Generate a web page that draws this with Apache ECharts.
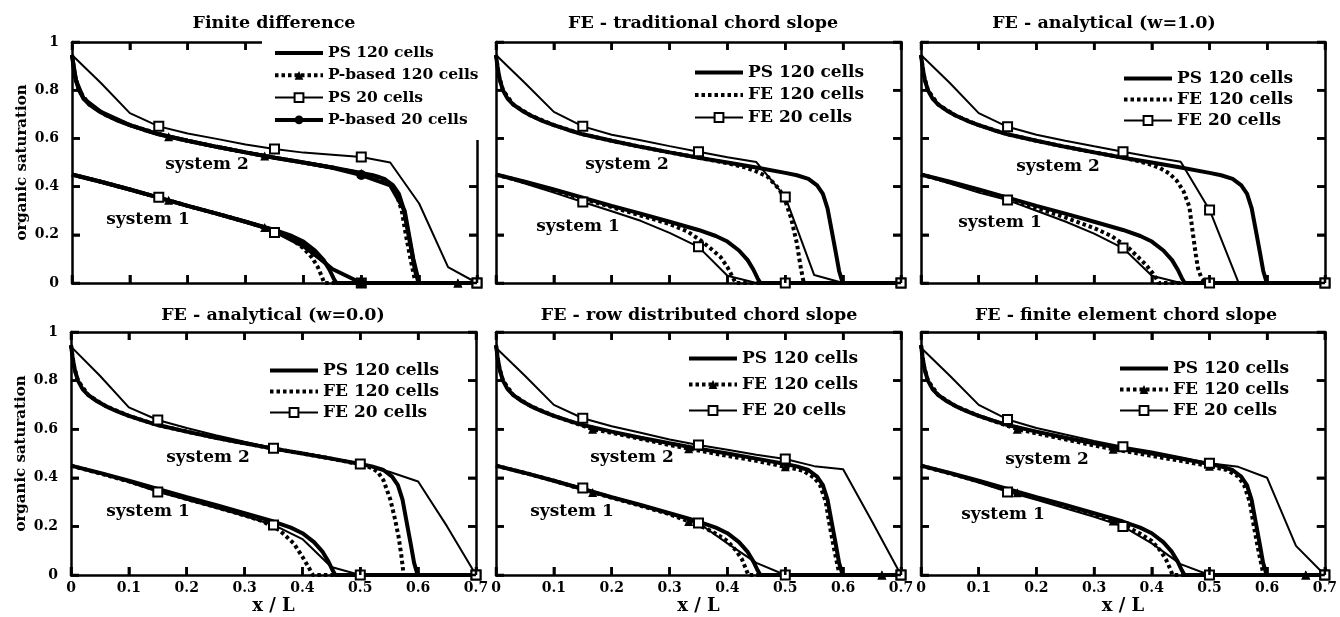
<!DOCTYPE html>
<html>
<head>
<meta charset="utf-8">
<title>organic saturation profiles</title>
<script src="https://cdn.jsdelivr.net/npm/echarts@6/dist/echarts.min.js"></script>
<style>
  html, body { margin: 0; padding: 0; background: #fff; }
  #main { width: 1340px; height: 617px; }
</style>
</head>
<body>
<div id="main"></div>
<script>
// axis ticks shared by every panel
const xTicks = [0, 0.1, 0.2, 0.3, 0.4, 0.5, 0.6, 0.7];
const yTicks = [0, 0.2, 0.4, 0.6, 0.8, 1];

const panelTitles = [
  'Finite difference',
  'FE - traditional chord slope',
  'FE - analytical (w=1.0)',
  'FE - analytical (w=0.0)',
  'FE - row distributed chord slope',
  'FE - finite element chord slope'
];

// where the markers sit on the curves (x / L)
const cells20Marks = [0.15, 0.35, 0.5, 0.7];
const cells120Marks = [0.167, 0.333, 0.5, 0.667];
const pBased20Marks = [0.5];

// reference solution, same in every panel
const ps120Sys2 = [[0,0.946],[0.003,0.89],[0.007,0.84],[0.012,0.8],[0.02,0.765],[0.03,0.74],[0.045,0.715],[0.06,0.695],[0.08,0.673],[0.1,0.655],[0.125,0.635],[0.15,0.617],[0.2,0.59],[0.25,0.565],[0.3,0.542],[0.35,0.52],[0.4,0.5],[0.45,0.479],[0.5,0.457],[0.52,0.447],[0.54,0.432],[0.555,0.405],[0.565,0.37],[0.573,0.31],[0.58,0.22],[0.587,0.13],[0.593,0.05],[0.598,0.01],[0.6,0],[0.7,0]];
const ps120Sys1 = [[0,0.45],[0.05,0.42],[0.1,0.388],[0.15,0.354],[0.2,0.32],[0.25,0.288],[0.3,0.254],[0.35,0.22],[0.38,0.195],[0.4,0.172],[0.42,0.135],[0.435,0.095],[0.445,0.055],[0.452,0.02],[0.457,0],[0.7,0]];

// finite difference
const pbFd120Sys2 = [[0,0.946],[0.005,0.86],[0.012,0.8],[0.03,0.74],[0.06,0.695],[0.1,0.655],[0.167,0.607],[0.2,0.59],[0.25,0.565],[0.3,0.542],[0.333,0.527],[0.4,0.5],[0.45,0.479],[0.5,0.455],[0.53,0.44],[0.55,0.41],[0.56,0.375],[0.57,0.3],[0.577,0.2],[0.585,0.1],[0.592,0.02],[0.595,0],[0.667,0],[0.7,0]];
const pbFd120Sys1 = [[0,0.45],[0.05,0.42],[0.1,0.388],[0.167,0.343],[0.2,0.32],[0.25,0.288],[0.3,0.254],[0.333,0.23],[0.36,0.205],[0.38,0.18],[0.4,0.145],[0.415,0.105],[0.425,0.065],[0.432,0.025],[0.436,0],[0.5,0],[0.667,0],[0.7,0]];
const psFd20Sys2 = [[0,0.946],[0.05,0.83],[0.1,0.705],[0.15,0.65],[0.2,0.62],[0.25,0.598],[0.3,0.575],[0.35,0.556],[0.4,0.541],[0.45,0.532],[0.5,0.523],[0.55,0.5],[0.6,0.33],[0.65,0.066],[0.7,0]];
const psFd20Sys1 = [[0,0.45],[0.05,0.42],[0.1,0.39],[0.15,0.356],[0.2,0.322],[0.25,0.29],[0.3,0.255],[0.35,0.21],[0.4,0.148],[0.45,0.058],[0.5,0],[0.7,0]];
const pbFd20Sys2 = [[0,0.946],[0.007,0.84],[0.02,0.765],[0.05,0.71],[0.1,0.655],[0.15,0.617],[0.2,0.59],[0.25,0.565],[0.3,0.542],[0.35,0.52],[0.4,0.5],[0.45,0.478],[0.5,0.448],[0.55,0.405],[0.575,0.3],[0.59,0.1],[0.6,0],[0.7,0]];
const pbFd20Sys1 = [[0,0.45],[0.05,0.42],[0.1,0.388],[0.15,0.354],[0.2,0.32],[0.25,0.288],[0.3,0.254],[0.35,0.218],[0.4,0.158],[0.45,0.058],[0.5,0],[0.7,0]];

// FE - traditional chord slope
const feTc120Sys2 = [[0,0.946],[0.005,0.86],[0.012,0.8],[0.03,0.74],[0.06,0.695],[0.1,0.655],[0.15,0.617],[0.2,0.59],[0.25,0.565],[0.3,0.542],[0.35,0.52],[0.4,0.497],[0.43,0.48],[0.45,0.463],[0.47,0.44],[0.49,0.388],[0.5,0.34],[0.51,0.27],[0.52,0.165],[0.527,0.06],[0.532,0],[0.7,0]];
const feTc120Sys1 = [[0,0.45],[0.05,0.418],[0.1,0.385],[0.15,0.35],[0.2,0.315],[0.25,0.28],[0.3,0.245],[0.33,0.215],[0.353,0.178],[0.37,0.145],[0.388,0.108],[0.4,0.066],[0.41,0.02],[0.414,0],[0.7,0]];
const feTc20Sys2 = [[0,0.946],[0.05,0.83],[0.1,0.71],[0.15,0.65],[0.2,0.615],[0.25,0.592],[0.3,0.568],[0.35,0.545],[0.4,0.522],[0.45,0.502],[0.5,0.357],[0.55,0.033],[0.6,0],[0.65,0],[0.7,0]];
const feTc20Sys1 = [[0,0.45],[0.05,0.413],[0.1,0.375],[0.15,0.336],[0.2,0.298],[0.25,0.258],[0.3,0.208],[0.35,0.15],[0.4,0.03],[0.45,0],[0.5,0],[0.7,0]];

// FE - analytical (w=1.0)
const feA1120Sys2 = [[0,0.946],[0.005,0.86],[0.012,0.8],[0.03,0.74],[0.06,0.695],[0.1,0.655],[0.15,0.617],[0.2,0.59],[0.25,0.565],[0.3,0.542],[0.35,0.52],[0.37,0.51],[0.4,0.49],[0.414,0.477],[0.43,0.455],[0.443,0.425],[0.455,0.38],[0.465,0.316],[0.471,0.207],[0.476,0.12],[0.48,0.06],[0.486,0.02],[0.494,0],[0.7,0]];
const feA1120Sys1 = [[0,0.45],[0.05,0.418],[0.1,0.385],[0.15,0.35],[0.2,0.312],[0.25,0.272],[0.3,0.228],[0.33,0.195],[0.36,0.145],[0.39,0.075],[0.405,0.03],[0.412,0],[0.7,0]];
const feA120Sys2 = [[0,0.946],[0.05,0.83],[0.1,0.705],[0.15,0.648],[0.2,0.615],[0.25,0.59],[0.3,0.567],[0.35,0.545],[0.4,0.523],[0.45,0.503],[0.5,0.303],[0.55,0.003],[0.6,0],[0.65,0],[0.7,0]];
const feA120Sys1 = [[0,0.45],[0.05,0.413],[0.1,0.375],[0.15,0.344],[0.2,0.3],[0.25,0.255],[0.3,0.205],[0.35,0.145],[0.4,0.03],[0.45,0],[0.5,0],[0.7,0]];

// FE - analytical (w=0.0)
const feA0120Sys2 = [[0,0.946],[0.005,0.86],[0.012,0.8],[0.03,0.74],[0.06,0.695],[0.1,0.655],[0.15,0.617],[0.2,0.59],[0.25,0.565],[0.3,0.542],[0.35,0.52],[0.4,0.5],[0.45,0.479],[0.5,0.455],[0.52,0.44],[0.53,0.425],[0.54,0.39],[0.552,0.31],[0.56,0.23],[0.566,0.16],[0.571,0.08],[0.575,0],[0.7,0]];
const feA0120Sys1 = [[0,0.45],[0.05,0.418],[0.1,0.385],[0.15,0.348],[0.2,0.313],[0.25,0.28],[0.3,0.245],[0.33,0.222],[0.36,0.185],[0.385,0.13],[0.4,0.075],[0.41,0.035],[0.418,0],[0.7,0]];
const feA020Sys2 = [[0,0.94],[0.05,0.82],[0.1,0.69],[0.15,0.638],[0.2,0.605],[0.25,0.575],[0.3,0.548],[0.35,0.522],[0.4,0.502],[0.45,0.482],[0.5,0.457],[0.55,0.425],[0.6,0.385],[0.65,0.2],[0.7,0]];
const feA020Sys1 = [[0,0.45],[0.05,0.418],[0.1,0.383],[0.15,0.342],[0.2,0.31],[0.25,0.277],[0.3,0.243],[0.35,0.206],[0.4,0.148],[0.45,0.033],[0.5,0],[0.7,0]];

// FE - row distributed chord slope
const feRd120Sys2 = [[0,0.946],[0.005,0.86],[0.012,0.8],[0.03,0.74],[0.06,0.695],[0.1,0.655],[0.167,0.6],[0.2,0.585],[0.25,0.56],[0.3,0.535],[0.333,0.52],[0.4,0.49],[0.45,0.47],[0.5,0.445],[0.53,0.43],[0.55,0.4],[0.56,0.37],[0.57,0.3],[0.577,0.2],[0.585,0.1],[0.592,0.02],[0.595,0],[0.667,0],[0.7,0]];
const feRd120Sys1 = [[0,0.45],[0.05,0.42],[0.1,0.388],[0.167,0.34],[0.2,0.318],[0.25,0.285],[0.3,0.25],[0.333,0.22],[0.36,0.195],[0.38,0.17],[0.4,0.14],[0.415,0.1],[0.425,0.065],[0.432,0.025],[0.436,0],[0.5,0],[0.667,0],[0.7,0]];
const feRd20Sys2 = [[0,0.935],[0.05,0.82],[0.1,0.7],[0.15,0.645],[0.2,0.612],[0.25,0.585],[0.3,0.558],[0.35,0.535],[0.4,0.515],[0.45,0.495],[0.5,0.477],[0.55,0.448],[0.6,0.435],[0.65,0.22],[0.7,0]];
const feRd20Sys1 = [[0,0.45],[0.05,0.42],[0.1,0.39],[0.15,0.358],[0.2,0.322],[0.25,0.29],[0.3,0.255],[0.35,0.214],[0.4,0.13],[0.45,0.05],[0.5,0],[0.7,0]];

// FE - finite element chord slope
const feFe120Sys2 = [[0,0.946],[0.005,0.86],[0.012,0.8],[0.03,0.74],[0.06,0.695],[0.1,0.655],[0.167,0.6],[0.2,0.583],[0.25,0.558],[0.3,0.533],[0.333,0.518],[0.4,0.49],[0.45,0.47],[0.5,0.448],[0.53,0.432],[0.55,0.405],[0.56,0.37],[0.57,0.3],[0.577,0.2],[0.585,0.1],[0.592,0.02],[0.595,0],[0.667,0],[0.7,0]];
const feFe120Sys1 = [[0,0.45],[0.05,0.418],[0.1,0.385],[0.167,0.338],[0.2,0.316],[0.25,0.283],[0.3,0.25],[0.333,0.222],[0.36,0.195],[0.38,0.17],[0.4,0.14],[0.415,0.1],[0.425,0.062],[0.432,0.025],[0.436,0],[0.5,0],[0.667,0],[0.7,0]];
const feFe20Sys2 = [[0,0.935],[0.05,0.82],[0.1,0.7],[0.15,0.64],[0.2,0.605],[0.25,0.578],[0.3,0.552],[0.35,0.528],[0.4,0.508],[0.45,0.485],[0.5,0.46],[0.55,0.445],[0.6,0.4],[0.65,0.12],[0.7,0]];
const feFe20Sys1 = [[0,0.45],[0.05,0.415],[0.1,0.38],[0.15,0.342],[0.2,0.31],[0.25,0.275],[0.3,0.24],[0.35,0.2],[0.4,0.13],[0.45,0.045],[0.5,0],[0.7,0]];

// [legend text, line kind, system 1, system 2, marker x positions]
const panelCurves = [
  [['PS 120 cells', 'thick', ps120Sys1, ps120Sys2, null],
   ['P-based 120 cells', 'dottedTri', pbFd120Sys1, pbFd120Sys2, cells120Marks],
   ['PS 20 cells', 'thinSq', psFd20Sys1, psFd20Sys2, cells20Marks],
   ['P-based 20 cells', 'thickDot', pbFd20Sys1, pbFd20Sys2, pBased20Marks]],
  [['PS 120 cells', 'thick', ps120Sys1, ps120Sys2, null],
   ['FE 120 cells', 'dotted', feTc120Sys1, feTc120Sys2, null],
   ['FE 20 cells', 'thinSq', feTc20Sys1, feTc20Sys2, cells20Marks]],
  [['PS 120 cells', 'thick', ps120Sys1, ps120Sys2, null],
   ['FE 120 cells', 'dotted', feA1120Sys1, feA1120Sys2, null],
   ['FE 20 cells', 'thinSq', feA120Sys1, feA120Sys2, cells20Marks]],
  [['PS 120 cells', 'thick', ps120Sys1, ps120Sys2, null],
   ['FE 120 cells', 'dotted', feA0120Sys1, feA0120Sys2, null],
   ['FE 20 cells', 'thinSq', feA020Sys1, feA020Sys2, cells20Marks]],
  [['PS 120 cells', 'thick', ps120Sys1, ps120Sys2, null],
   ['FE 120 cells', 'dottedTri', feRd120Sys1, feRd120Sys2, cells120Marks],
   ['FE 20 cells', 'thinSq', feRd20Sys1, feRd20Sys2, cells20Marks]],
  [['PS 120 cells', 'thick', ps120Sys1, ps120Sys2, null],
   ['FE 120 cells', 'dottedTri', feFe120Sys1, feFe120Sys2, cells120Marks],
   ['FE 20 cells', 'thinSq', feFe20Sys1, feFe20Sys2, cells20Marks]]
];

// ---- layout (pixels) ----
const gridBoxes = [[72, 42, 405, 241], [496, 42, 405, 241], [921, 42, 404, 241],
                   [71, 332, 405, 243], [496, 332, 405, 243], [921, 332, 404, 243]];
const titlePos = [[274, 23], [703, 23], [1104, 23], [273, 315], [699, 315], [1126, 315]];
const sysLabelPos = [[[207, 165], [148, 220]], [[627, 165], [578, 227]], [[1058, 167], [1000, 223]],
                     [[208, 458], [148, 512]], [[632, 458], [572, 512]], [[1047, 460], [1003, 515]]];
const legendBoxes = [
  { left: 262, top: 31, gap: 6.3, size: 15.5, bg: '#fff', padding: [14, 4, 12, 11], bottom: 140 },
  { left: 693, top: 64, gap: 5.5, size: 17 },
  { left: 1122, top: 70, gap: 4, size: 17 },
  { left: 268, top: 362, gap: 4, size: 17 },
  { left: 687, top: 350, gap: 9, size: 17 },
  { left: 1118, top: 360, gap: 4, size: 17 }
];
const TICK_LEN = 8;

const FONT = 'DejaVu Serif';
const KIND = {
  thick:     { width: 4, type: 'solid', symbol: 'none', size: 0 },
  dotted:    { width: 4, type: [3.5, 3], symbol: 'none', size: 0 },
  dottedTri: { width: 4, type: [3.5, 3], symbol: 'triangle', size: 9 },
  thinSq:    { width: 2, type: 'solid', symbol: 'emptyRect', size: 9 },
  thickDot:  { width: 4, type: 'solid', symbol: 'circle', size: 10 }
};

function withMarks(points, marks) {
  return points.map(p => (marks && marks.indexOf(p[0]) >= 0) ? p : { value: p, symbol: 'none' });
}

// frame on all four sides, ticks pointing inward
function frameAxis(extra) {
  return Object.assign({
    type: 'value',
    axisLine: { show: true, onZero: false, lineStyle: { color: '#000', width: 2.5 } },
    axisTick: { show: true, inside: true, length: TICK_LEN, lineStyle: { color: '#000', width: 2.5 } },
    splitLine: { show: false }
  }, extra);
}
function tickFont(show, margin) {
  return { show: show, margin: margin, fontFamily: FONT, fontWeight: 'bold', fontSize: 14, color: '#000' };
}

const grid = [], xAxis = [], yAxis = [], series = [], legend = [], title = [], texts = [];
const xMin = xTicks[0], xMax = xTicks[xTicks.length - 1], xStep = xTicks[1] - xTicks[0];
const yMin = yTicks[0], yMax = yTicks[yTicks.length - 1], yStep = yTicks[1] - yTicks[0];

gridBoxes.forEach((b, i) => {
  const row = Math.floor(i / 3), col = i % 3;
  grid.push({ left: b[0], top: b[1], width: b[2], height: b[3] });

  xAxis.push(frameAxis({
    gridIndex: i, position: 'bottom', min: xMin, max: xMax, interval: xStep,
    axisLabel: tickFont(row === 1, 6),
    name: row === 1 ? 'x / L' : '', nameLocation: 'middle', nameGap: 22,
    nameTextStyle: { fontFamily: FONT, fontWeight: 'bold', fontSize: 18, color: '#000' }
  }));
  xAxis.push(frameAxis({
    gridIndex: i, position: 'top', min: xMin, max: xMax, interval: xStep,
    axisLabel: { show: false }
  }));
  yAxis.push(frameAxis({
    gridIndex: i, position: 'left', min: yMin, max: yMax, interval: yStep,
    axisLabel: tickFont(col === 0, 13),
    name: col === 0 ? 'organic saturation' : '', nameLocation: 'middle', nameGap: 42,
    nameTextStyle: { fontFamily: FONT, fontWeight: 'bold', fontSize: 15, color: '#000' }
  }));
  yAxis.push(frameAxis({
    gridIndex: i, position: 'right', min: yMin, max: yMax, interval: yStep,
    axisLabel: { show: false }
  }));

  const legendData = [];
  panelCurves[i].forEach(c => {
    const k = KIND[c[1]];
    const name = c[0] + '#' + i;
    [c[2], c[3]].forEach(pts => {
      series.push({
        type: 'line', name: name, xAxisIndex: 2 * i, yAxisIndex: 2 * i,
        data: withMarks(pts, c[4]),
        symbol: k.symbol, symbolSize: k.size, showSymbol: true, showAllSymbol: true,
        lineStyle: { color: '#000', width: k.width, type: k.type },
        itemStyle: { color: '#000' },
        animation: false, silent: true
      });
    });
    legendData.push({
      name: name,
      lineStyle: { width: k.width, type: k.type, color: '#000' },
      itemStyle: k.symbol === 'none' ? { opacity: 0 } : { color: '#000' }
    });
  });

  const lb = legendBoxes[i];
  legend.push({
    orient: 'vertical', left: lb.left, top: lb.top, itemGap: lb.gap,
    itemWidth: 48, itemHeight: 11, padding: lb.padding || 0,
    backgroundColor: lb.bg || 'transparent', selectedMode: false,
    data: legendData,
    formatter: n => n.split('#')[0],
    textStyle: { fontFamily: FONT, fontWeight: 'bold', fontSize: lb.size, lineHeight: 16, color: '#000' }
  });

  title.push({
    text: panelTitles[i], left: titlePos[i][0], top: titlePos[i][1], padding: 0,
    textAlign: 'center', textVerticalAlign: 'middle',
    textStyle: { fontFamily: FONT, fontWeight: 'bold', fontSize: 17.5, color: '#000' }
  });

  ['system 2', 'system 1'].forEach((t, s) => {
    texts.push({
      type: 'text', id: 'sys' + i + '_' + s, x: sysLabelPos[i][s][0], y: sysLabelPos[i][s][1], silent: true,
      style: { text: t, align: 'center', verticalAlign: 'middle', fill: '#000',
               font: 'bold 17px "' + FONT + '"' }
    });
  });
});

const chart = echarts.init(document.getElementById('main'), null, { renderer: 'canvas' });
chart.setOption({
  backgroundColor: '#fff',
  animation: false,
  title: title,
  grid: grid,
  xAxis: xAxis,
  yAxis: yAxis,
  legend: legend,
  graphic: texts,
  series: series
});

// extra inward tick marks placed through each panel's scales; the ones under
// the first panel's legend box stay hidden as in the original
try {
  const ticks = [];
  let n = 0;
  const tick = (x1, y1, x2, y2) => {
    ticks.push({ type: 'line', id: 'tick' + (n++), z: 100, silent: true,
                 shape: { x1: x1, y1: y1, x2: x2, y2: y2 },
                 style: { stroke: '#000', lineWidth: 2.5 } });
  };
  gridBoxes.forEach((b, i) => {
    const lb = legendBoxes[i];
    xTicks.forEach(v => {
      const p = chart.convertToPixel({ gridIndex: i }, [v, yMin]);
      const q = chart.convertToPixel({ gridIndex: i }, [v, yMax]);
      tick(p[0], p[1], p[0], p[1] - TICK_LEN);
      if (!(lb.bg && q[0] >= lb.left)) tick(q[0], q[1], q[0], q[1] + TICK_LEN);
    });
    yTicks.forEach(v => {
      const p = chart.convertToPixel({ gridIndex: i }, [xMin, v]);
      const q = chart.convertToPixel({ gridIndex: i }, [xMax, v]);
      tick(p[0], p[1], p[0] + TICK_LEN, p[1]);
      if (!(lb.bg && q[1] <= lb.bottom)) tick(q[0], q[1], q[0] - TICK_LEN, q[1]);
    });
  });
  chart.setOption({ graphic: { elements: ticks } });
} catch (e) {
  // keep the chart as drawn if the extra ticks cannot be placed
}
</script>
</body>
</html>
